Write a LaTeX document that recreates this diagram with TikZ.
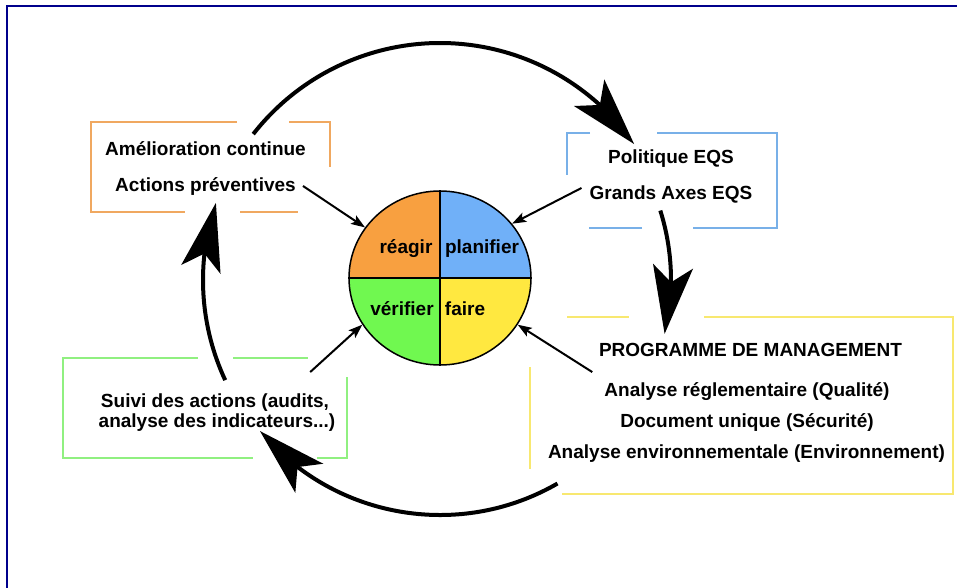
\documentclass[tikz,border=0pt]{standalone}
\usepackage{fontspec}
\setmainfont{Liberation Sans}
\usetikzlibrary{arrows.meta,bending,shapes.geometric}
\definecolor{qorange}{RGB}{248,160,64}
\definecolor{qblue}{RGB}{112,176,248}
\definecolor{qgreen}{RGB}{112,248,80}
\definecolor{qyellow}{RGB}{255,232,64}
\definecolor{borange}{RGB}{240,168,96}
\definecolor{bblue}{RGB}{120,176,232}
\definecolor{byellow}{RGB}{248,232,112}
\definecolor{bgreen}{RGB}{144,240,128}
\definecolor{framecol}{RGB}{0,0,140}
\begin{document}
\begin{tikzpicture}[x=1pt,y=-1pt,
		txt/.style={font=\fontsize{19}{22}\selectfont\bfseries,anchor=base,inner sep=3pt},
		boxline/.style={line width=1.5pt},
		cycarrow/.style={line width=4pt,-{Stealth[length=68pt,width=40pt,inset=16pt,flex]}},
		pointer/.style={line width=2pt,-{Stealth[length=14pt,width=10pt,inset=3pt]}}]
		\useasboundingbox (0,0) rectangle (957,588);
		\draw[framecol,line width=2pt] (7,588) -- (7,6) -- (957,6);
		% the wheel
		\begin{scope}
			\clip (440,278) ellipse [x radius=91pt,y radius=87pt];
			\foreach \dx/\dy/\col in {-1/-1/qorange,1/-1/qblue,-1/1/qgreen,1/1/qyellow} {
				\fill[\col] (440,278) rectangle ++(100*\dx,100*\dy);
			}
		\end{scope}
		\node[draw,ellipse,line width=1.5pt,minimum width=182pt,minimum height=174pt,inner sep=0pt] (wheel) at (440,278) {};
		\draw[line width=1.5pt] (wheel.north) -- (wheel.south);
		\draw[line width=1.5pt] (wheel.west) -- (wheel.east);
		\node[txt] (reagir) at (406,253) {réagir};
		\node[txt] (planifier) at (482,253) {planifier};
		\node[txt] (verifier) at (402,315) {vérifier};
		\node[txt] (faire) at (465,315) {faire};
		% boxes
		\draw[boxline,borange] (237,122) -- (91,122) -- (91,212) -- (185,212) (240,212) -- (298,212) (289,122) -- (330,122) -- (330,167);
		\draw[boxline,bblue] (590,133) -- (567,133) -- (567,175) (657,133) -- (777,133) -- (777,228) -- (693,228) (642,228) -- (589,228);
		\draw[boxline,byellow] (567,317) -- (629,317) (704,317) -- (953,317) -- (953,494) -- (562,494) (530,367) -- (530,469);
		\draw[boxline,bgreen] (198,358) -- (63,358) -- (63,458) -- (253,458) (233,358) -- (308,358) (317,458) -- (347,458) -- (347,377);
		% texts
		\node[txt] (amelio) at (205.5,156) {Amélioration continue};
		\node[txt] (prevent) at (205.5,191) {Actions préventives};
		\node[txt] (politique) at (671,164) {Politique EQS};
		\node[txt] (axes) at (671,199) {Grands Axes EQS};
		\node[txt] (prog) at (750.5,356) {PROGRAMME DE MANAGEMENT};
		\node[txt] (regl) at (747,396) {Analyse réglementaire (Qualité)};
		\node[txt] (docu) at (747,427) {Document unique (Sécurité)};
		\node[txt] (envir) at (746.5,458) {Analyse environnementale (Environnement)};
		\node[txt] (suivi) at (215,407) {Suivi des actions (audits,};
		\node[txt] (indic) at (217,427) {analyse des indicateurs...)};
		% pointers to the wheel
		\draw[pointer] ([xshift=4pt]prevent.east) -- (wheel.146);
		\draw[pointer] ([shift={(-5,-6)}]axes.west) -- (wheel.37);
		\draw[pointer] ([shift={(-22,-18)}]suivi.north east) -- (wheel.211);
		\draw[pointer] ([shift={(-9,-19)}]regl.west) -- (wheel.-31);
		% the cycle
		\coordinate (cyc) at (440,280);
		\draw[cycarrow] ([shift={(142:237pt)}]cyc) arc[start angle=142,end angle=35,radius=237pt];
		\draw[cycarrow] ([shift={(17.5:231pt)}]cyc) arc[start angle=17.5,end angle=-13.5,radius=231pt];
		\draw[cycarrow] ([shift={(-60:235pt)}]cyc) arc[start angle=-60,end angle=-140,radius=235pt];
		\draw[cycarrow] ([shift={(205:237pt)}]cyc) arc[start angle=205,end angle=161,radius=237pt];
\end{tikzpicture}
\end{document}
